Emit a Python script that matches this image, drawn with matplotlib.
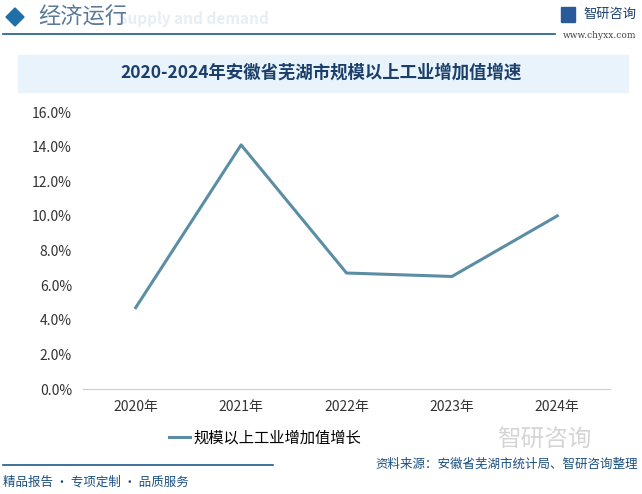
import matplotlib.pyplot as plt
from matplotlib.patches import Rectangle, Polygon

plt.rcParams['font.family'] = ['Noto Sans CJK SC', 'DejaVu Sans']

# 数据
years = ['2020年', '2021年', '2022年', '2023年', '2024年']
growth = [4.7, 14.1, 6.7, 6.5, 10.0]
yticks = [0, 2, 4, 6, 8, 10, 12, 14, 16]

W, H = 642, 494
fig = plt.figure(figsize=(W / 100, H / 100), dpi=100)

def fx(x):
    return x / W

def fy(y):
    return 1 - y / H

# header
fig.patches.append(Polygon([[fx(6), fy(17)], [fx(15), fy(8)], [fx(24), fy(17)], [fx(15), fy(26)]],
                           closed=True, transform=fig.transFigure, color='#1f6fa8'))
fig.text(fx(118), fy(19), 'Supply and demand', fontsize=11, color='#e6eef5',
         fontweight='bold', va='center', ha='left')
fig.text(fx(38), fy(17), '经济运行', fontsize=16, color='#5a7a98', va='center', ha='left')
fig.add_artist(plt.Line2D([fx(3), fx(555)], [fy(34), fy(34)], color='#1b5a8a', lw=1.2))
fig.text(fx(583), fy(14), '智研咨询', fontsize=9.5, color='#1b3f70', va='center', ha='left')
fig.patches.append(Rectangle((fx(561), fy(22)), 14 / W, 15 / H, transform=fig.transFigure,
                             color='#2b5a9a'))
fig.text(fx(600), fy(36), 'www.chyxx.com', fontsize=6.5, color='#444444', va='center',
         ha='center', family='DejaVu Serif')

# title
fig.patches.append(Rectangle((fx(18), fy(92)), 610 / W, 37 / H, transform=fig.transFigure,
                             color='#e8f3fb', zorder=0))
fig.text(fx(321), fy(73), '2020-2024年安徽省芜湖市规模以上工业增加值增速', fontsize=12.5,
         fontweight='bold', color='#1b3f6a', va='center', ha='center')

# chart
aw, ah = (610 - 83) / W, (389 - 112) / H
ax = fig.add_axes([fx(83), fy(389), aw, ah])
x = range(len(years))
ax.plot(x, growth, color='#5b8ea5', lw=2.2, label='规模以上工业增加值增长')
ax.set_xlim(-0.5, len(years) - 0.5)
ax.set_ylim(0, 16)
ax.set_yticks(yticks)
ax.set_yticklabels([f'{v:.1f}%' for v in yticks], fontsize=10, color='#333333')
ax.set_xticks(list(x))
ax.set_xticklabels(years, fontsize=10, color='#333333')
for s in ['top', 'right', 'left']:
    ax.spines[s].set_visible(False)
ax.spines['bottom'].set_color('#cccccc')
ax.tick_params(axis='both', length=0, pad=8)
ax.patch.set_alpha(0)

ax.legend(loc='center', bbox_to_anchor=((265 - 83) / W / aw, (fy(438) - fy(389)) / ah),
          bbox_transform=ax.transAxes, frameon=False, fontsize=11, handlelength=1.4,
          handletextpad=0.2)

# footer
fig.add_artist(plt.Line2D([fx(3), fx(273)], [fy(465), fy(465)], color='#1b5a8a', lw=1.2))
fig.text(fx(638), fy(464), '资料来源：安徽省芜湖市统计局、智研咨询整理', fontsize=9,
         color='#1b4f80', va='center', ha='right')
fig.text(fx(3), fy(482), '精品报告 · 专项定制 · 品质服务', fontsize=9, color='#1b4f80',
         va='center', ha='left')
fig.text(fx(497), fy(440), '智研咨询', fontsize=17, color='#d5d5d5', va='center', ha='left')

fig.savefig('out.png', dpi=100)
